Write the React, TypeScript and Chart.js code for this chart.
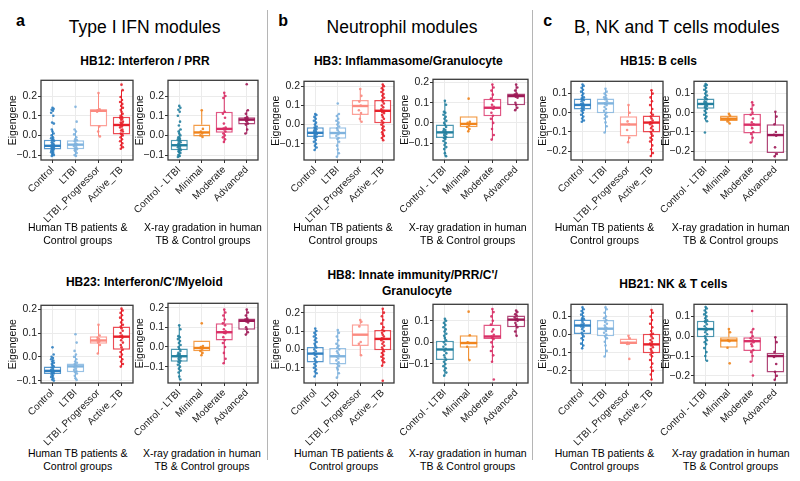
import React, { useEffect, useRef } from 'react';
import { Chart, registerables } from 'chart.js';
Chart.register(...registerables);

const FONT = "'Liberation Sans', Arial, Helvetica, sans-serif";
Chart.defaults.font.family = FONT;

// ---------- categories & colours ----------
const HUMAN_GROUPS = ['Control', 'LTBI', 'LTBI_Progressor', 'Active_TB'];
const XRAY_GROUPS = ['Control - LTBI', 'Minimal', 'Moderate', 'Advanced'];
const HUMAN_COLORS = ['#2f7fc1', '#7fb3de', '#fb8a80', '#e7202a'];
const XRAY_COLORS = ['#23809f', '#f0841c', '#d92e66', '#9e1a57'];
const HUMAN_TITLE = ['Human TB patients &', 'Control groups'];
const XRAY_TITLE = ['X-ray gradation in human', 'TB & Control groups'];
const Y_TICKS = [-0.2, -0.1, 0, 0.1, 0.2];

// ---------- box stats: [whisker low, Q1, median, Q3, whisker high] ----------
const HB12_HUMAN_STATS = [[-0.105, -0.072, -0.053, -0.022, 0.03], [-0.105, -0.07, -0.047, -0.025, 0.03], [-0.005, 0.045, 0.125, 0.133, 0.213], [-0.068, 0.005, 0.053, 0.095, 0.23]];
const HB12_XRAY_STATS = [[-0.11, -0.075, -0.05, -0.022, 0.03], [-0.008, -0.005, 0.015, 0.055, 0.128], [-0.033, 0.013, 0.033, 0.12, 0.217], [0.008, 0.055, 0.08, 0.092, 0.128]];
const HB23_HUMAN_STATS = [[-0.1, -0.072, -0.059, -0.041, -0.01], [-0.097, -0.065, -0.04, -0.028, 0.01], [0.014, 0.055, 0.069, 0.087, 0.135], [-0.041, 0.03, 0.085, 0.128, 0.203]];
const HB3_HUMAN_STATS = [[-0.133, -0.065, -0.043, -0.014, 0.055], [-0.168, -0.074, -0.044, -0.014, 0.055], [0.015, 0.05, 0.097, 0.128, 0.186], [-0.082, 0.007, 0.072, 0.128, 0.209]];
const HB3_XRAY_STATS = [[-0.165, -0.075, -0.047, -0.008, 0.11], [-0.042, -0.022, -0.005, 0.033, 0.033], [-0.083, 0.033, 0.075, 0.12, 0.19], [0.063, 0.087, 0.133, 0.145, 0.19]];
const HB23_XRAY_STATS = HB3_XRAY_STATS;
const HB8_HUMAN_STATS = [[-0.148, -0.071, -0.023, 0.0125, 0.114], [-0.154, -0.082, -0.0375, 0.007, 0.105], [-0.032, 0.018, 0.08, 0.1375, 0.16], [-0.089, -0.005, 0.057, 0.105, 0.221]];
const HB8_XRAY_STATS = [[-0.154, -0.082, -0.033, 0.0075, 0.109], [-0.082, -0.025, -0.003, 0.033, 0.033], [-0.09, 0.015, 0.027, 0.082, 0.154], [0.03, 0.07, 0.105, 0.124, 0.147]];
const HB15_HUMAN_STATS = [[-0.047, 0.017, 0.041, 0.0746, 0.147], [-0.103, -0.002, 0.049, 0.0746, 0.125], [-0.153, -0.124, -0.061, -0.0186, 0.041], [-0.225, -0.103, -0.051, -0.0136, 0.117]];
const HB15_XRAY_STATS = [[-0.044, 0.0205, 0.046, 0.075, 0.15], [-0.056, -0.043, -0.031, -0.014, -0.005], [-0.155, -0.108, -0.062, -0.005, 0.055], [-0.227, -0.21, -0.116, -0.06, 0.005]];
const HB21_HUMAN_STATS = [[-0.076, 0.0, 0.05, 0.083, 0.15], [-0.121, -0.009, 0.0325, 0.081, 0.15], [-0.052, -0.052, -0.045, -0.0217, -0.007], [-0.248, -0.103, -0.054, 0.005, 0.135]];
const HB21_XRAY_STATS = [[-0.124, -0.005, 0.036, 0.078, 0.147], [-0.058, -0.058, -0.0215, -0.005, 0.036], [-0.129, -0.074, -0.025, -0.005, 0.036], [-0.22, -0.183, -0.1, -0.083, -0.005]];

// ---------- individual points ----------
const HB12_HUMAN_POINTS = [
  [0.14, 0.135, 0.13, 0.125, 0.115, 0.1, 0.065, 0.06, 0.03, 0.02, 0.01, 0.0, -0.01, -0.015, -0.02, -0.025, -0.03, -0.035, -0.04, -0.045, -0.05, -0.052, -0.055, -0.058, -0.06, -0.063, -0.066, -0.07, -0.072, -0.075, -0.08, -0.085, -0.09, -0.095, -0.1, -0.105],
  [0.145, 0.07, 0.03, 0.02, 0.005, -0.01, -0.02, -0.025, -0.03, -0.04, -0.045, -0.048, -0.05, -0.055, -0.06, -0.065, -0.07, -0.075, -0.08, -0.09, -0.1, -0.105],
  [0.215, 0.132, 0.128, 0.125, 0.12, 0.045, 0.02, -0.005],
  [0.258, 0.23, 0.195, 0.18, 0.17, 0.16, 0.15, 0.14, 0.13, 0.12, 0.11, 0.1, 0.095, 0.09, 0.085, 0.08, 0.07, 0.065, 0.06, 0.055, 0.05, 0.045, 0.04, 0.03, 0.025, 0.02, 0.01, 0.005, 0.0, -0.01, -0.02, -0.03, -0.04, -0.05, -0.06, -0.068],
];
const HB12_XRAY_POINTS = [
  [0.15, 0.14, 0.13, 0.12, 0.1, 0.07, 0.05, 0.03, 0.02, 0.01, 0.0, -0.01, -0.015, -0.02, -0.025, -0.03, -0.035, -0.04, -0.045, -0.05, -0.052, -0.055, -0.06, -0.065, -0.07, -0.075, -0.08, -0.085, -0.09, -0.1, -0.105, -0.11],
  [0.128, 0.033, 0.02, 0.01, 0.0, -0.008],
  [0.217, 0.2, 0.19, 0.12, 0.11, 0.09, 0.06, 0.04, 0.035, 0.03, 0.02, 0.01, 0.0, -0.01, -0.02, -0.033],
  [0.26, 0.128, 0.11, 0.092, 0.088, 0.083, 0.08, 0.078, 0.075, 0.07, 0.06, 0.055, 0.03, 0.01],
];
const HB23_HUMAN_POINTS = [
  [0.04, 0.01, 0.0, -0.005, -0.01, -0.015, -0.02, -0.025, -0.03, -0.035, -0.04, -0.045, -0.05, -0.055, -0.058, -0.06, -0.062, -0.065, -0.068, -0.07, -0.075, -0.08, -0.085, -0.09, -0.095, -0.1],
  [0.095, 0.06, 0.025, 0.01, 0.0, -0.01, -0.02, -0.025, -0.03, -0.035, -0.04, -0.045, -0.05, -0.055, -0.06, -0.065, -0.07, -0.08, -0.09, -0.097],
  [0.135, 0.09, 0.08, 0.075, 0.07, 0.065, 0.06, 0.05, 0.014],
  [0.203, 0.195, 0.185, 0.175, 0.165, 0.155, 0.145, 0.135, 0.128, 0.12, 0.11, 0.1, 0.09, 0.085, 0.08, 0.07, 0.06, 0.05, 0.04, 0.03, 0.02, 0.01, 0.0, -0.01, -0.02, -0.03, -0.041],
];
const HB3_HUMAN_POINTS = [
  [0.055, 0.05, 0.04, 0.03, 0.02, 0.01, 0.0, -0.01, -0.015, -0.02, -0.025, -0.03, -0.035, -0.04, -0.043, -0.045, -0.05, -0.055, -0.06, -0.065, -0.07, -0.08, -0.09, -0.1, -0.11, -0.12, -0.133],
  [0.11, 0.055, 0.045, 0.03, 0.02, 0.01, 0.0, -0.01, -0.02, -0.03, -0.04, -0.045, -0.05, -0.06, -0.07, -0.075, -0.09, -0.11, -0.13, -0.15, -0.168],
  [0.186, 0.15, 0.12, 0.1, 0.075, 0.06, 0.03, 0.015],
  [0.209, 0.2, 0.19, 0.18, 0.17, 0.16, 0.15, 0.14, 0.13, 0.12, 0.11, 0.1, 0.09, 0.08, 0.072, 0.065, 0.06, 0.05, 0.04, 0.03, 0.02, 0.01, 0.0, -0.01, -0.02, -0.03, -0.04, -0.05, -0.06, -0.07, -0.082],
];
const HB3_XRAY_POINTS = [
  [0.11, 0.09, 0.055, 0.05, 0.04, 0.03, 0.02, 0.01, 0.0, -0.01, -0.02, -0.03, -0.035, -0.04, -0.045, -0.05, -0.055, -0.06, -0.065, -0.07, -0.075, -0.08, -0.09, -0.1, -0.11, -0.12, -0.13, -0.15, -0.165],
  [0.12, 0.005, 0.0, -0.01, -0.02, -0.03, -0.042],
  [0.19, 0.175, 0.16, 0.14, 0.12, 0.11, 0.09, 0.08, 0.075, 0.072, 0.07, 0.05, 0.035, 0.02, 0.0, -0.03, -0.06, -0.083],
  [0.19, 0.175, 0.16, 0.145, 0.14, 0.135, 0.13, 0.125, 0.1, 0.09, 0.075, 0.063],
];
const HB23_XRAY_POINTS = HB3_XRAY_POINTS;
const HB8_HUMAN_POINTS = [
  [0.114, 0.1, 0.09, 0.08, 0.07, 0.06, 0.05, 0.04, 0.03, 0.02, 0.01, 0.0, -0.01, -0.02, -0.025, -0.03, -0.04, -0.05, -0.06, -0.07, -0.08, -0.09, -0.1, -0.11, -0.12, -0.13, -0.148],
  [0.105, 0.09, 0.07, 0.05, 0.03, 0.02, 0.01, 0.0, -0.01, -0.02, -0.03, -0.04, -0.05, -0.06, -0.07, -0.08, -0.09, -0.1, -0.11, -0.13, -0.154],
  [0.16, 0.15, 0.125, 0.04, 0.03, -0.032],
  [0.221, 0.2, 0.18, 0.16, 0.14, 0.12, 0.105, 0.1, 0.09, 0.08, 0.07, 0.06, 0.057, 0.05, 0.04, 0.03, 0.02, 0.01, 0.0, -0.01, -0.02, -0.03, -0.04, -0.05, -0.06, -0.07, -0.089, -0.171],
];
const HB8_XRAY_POINTS = [
  [0.109, 0.1, 0.09, 0.08, 0.07, 0.06, 0.05, 0.04, 0.03, 0.02, 0.01, 0.0, -0.01, -0.02, -0.03, -0.04, -0.05, -0.06, -0.07, -0.08, -0.09, -0.1, -0.11, -0.12, -0.13, -0.14, -0.154],
  [0.142, 0.033, 0.0, -0.003, -0.02, -0.082],
  [0.154, 0.14, 0.12, 0.1, 0.082, 0.06, 0.05, 0.035, 0.027, 0.02, 0.015, 0.0, -0.02, -0.04, -0.06, -0.09, -0.172],
  [0.147, 0.14, 0.13, 0.124, 0.115, 0.11, 0.105, 0.1, 0.09, 0.08, 0.07, 0.05, 0.03],
];
const HB15_HUMAN_POINTS = [
  [0.147, 0.14, 0.13, 0.12, 0.11, 0.1, 0.09, 0.08, 0.075, 0.07, 0.065, 0.06, 0.05, 0.045, 0.04, 0.035, 0.03, 0.025, 0.02, 0.015, 0.01, 0.0, -0.01, -0.02, -0.03, -0.04, -0.047],
  [0.125, 0.11, 0.1, 0.09, 0.08, 0.075, 0.07, 0.06, 0.05, 0.045, 0.04, 0.03, 0.02, 0.01, 0.0, -0.01, -0.02, -0.03, -0.05, -0.07, -0.103],
  [0.04, 0.0, -0.045, -0.06, -0.09, -0.13, -0.153],
  [0.117, 0.1, 0.08, 0.06, 0.04, 0.02, 0.0, -0.01, -0.02, -0.03, -0.04, -0.05, -0.055, -0.06, -0.07, -0.08, -0.09, -0.1, -0.11, -0.12, -0.13, -0.14, -0.15, -0.17, -0.19, -0.21, -0.225],
];
const HB15_XRAY_POINTS = [
  [0.15, 0.145, 0.14, 0.13, 0.12, 0.11, 0.1, 0.09, 0.08, 0.075, 0.07, 0.06, 0.055, 0.05, 0.045, 0.04, 0.035, 0.03, 0.025, 0.02, 0.01, 0.0, -0.01, -0.02, -0.03, -0.044, -0.103],
  [-0.005, -0.015, -0.03, -0.035, -0.045, -0.056],
  [0.055, 0.04, 0.02, 0.0, -0.01, -0.03, -0.05, -0.06, -0.065, -0.08, -0.1, -0.11, -0.13, -0.155],
  [0.005, -0.02, -0.06, -0.1, -0.115, -0.12, -0.18, -0.215, -0.227],
];
const HB21_HUMAN_POINTS = [
  [0.15, 0.14, 0.13, 0.12, 0.11, 0.1, 0.09, 0.085, 0.08, 0.07, 0.06, 0.055, 0.05, 0.045, 0.04, 0.03, 0.02, 0.01, 0.0, -0.01, -0.02, -0.03, -0.05, -0.06, -0.076],
  [0.15, 0.14, 0.12, 0.1, 0.09, 0.08, 0.07, 0.06, 0.05, 0.04, 0.035, 0.03, 0.02, 0.01, 0.0, -0.01, -0.02, -0.04, -0.06, -0.09, -0.121],
  [-0.007, -0.02, -0.045, -0.05, -0.052, -0.134],
  [0.135, 0.12, 0.1, 0.08, 0.06, 0.04, 0.02, 0.005, 0.0, -0.01, -0.02, -0.03, -0.04, -0.05, -0.055, -0.06, -0.07, -0.08, -0.09, -0.1, -0.11, -0.12, -0.14, -0.16, -0.18, -0.2, -0.22, -0.248],
];
const HB21_XRAY_POINTS = [
  [0.147, 0.14, 0.13, 0.12, 0.11, 0.1, 0.09, 0.08, 0.075, 0.07, 0.06, 0.05, 0.04, 0.035, 0.03, 0.02, 0.01, 0.0, -0.01, -0.02, -0.03, -0.04, -0.06, -0.08, -0.1, -0.124],
  [0.036, 0.02, -0.02, -0.025, -0.058, -0.137],
  [0.127, 0.036, 0.02, 0.0, -0.01, -0.02, -0.025, -0.03, -0.04, -0.05, -0.07, -0.08, -0.1, -0.129, -0.198],
  [-0.005, -0.03, -0.08, -0.1, -0.105, -0.14, -0.18, -0.2, -0.22],
];

// ---------- y axis limits ----------
const HB12_HUMAN_Y = [-0.125, 0.28];
const HB12_XRAY_Y = [-0.125, 0.28];
const HB23_HUMAN_Y = [-0.11, 0.217];
const HB23_XRAY_Y = [-0.183, 0.222];
const HB3_HUMAN_Y = [-0.185, 0.226];
const HB3_XRAY_Y = [-0.184, 0.216];
const HB8_HUMAN_Y = [-0.183, 0.24];
const HB8_XRAY_Y = [-0.188, 0.176];
const HB15_HUMAN_Y = [-0.246, 0.164];
const HB15_XRAY_Y = [-0.246, 0.164];
const HB21_HUMAN_Y = [-0.267, 0.167];
const HB21_XRAY_Y = [-0.236, 0.161];

// ---------- layout (plot area boxes: left, top, right, bottom) ----------
const H = { groups: HUMAN_GROUPS, colors: HUMAN_COLORS, title: HUMAN_TITLE };
const X = { groups: XRAY_GROUPS, colors: XRAY_COLORS, title: XRAY_TITLE };
const PLOTS = [
  { ...H, stats: HB12_HUMAN_STATS, points: HB12_HUMAN_POINTS, y: HB12_HUMAN_Y, box: [41, 79, 133, 160], tx: 77.7, row: 0 },
  { ...X, stats: HB12_XRAY_STATS, points: HB12_XRAY_POINTS, y: HB12_XRAY_Y, box: [168, 79, 258, 160], tx: 203, row: 0 },
  { ...H, stats: HB3_HUMAN_STATS, points: HB3_HUMAN_POINTS, y: HB3_HUMAN_Y, box: [304, 80, 394, 160], tx: 343, row: 0 },
  { ...X, stats: HB3_XRAY_STATS, points: HB3_XRAY_POINTS, y: HB3_XRAY_Y, box: [433, 78, 528, 160], tx: 467.7, row: 0 },
  { ...H, stats: HB15_HUMAN_STATS, points: HB15_HUMAN_POINTS, y: HB15_HUMAN_Y, box: [571, 80, 663, 160], tx: 604.5, row: 0 },
  { ...X, stats: HB15_XRAY_STATS, points: HB15_XRAY_POINTS, y: HB15_XRAY_Y, box: [694, 80, 787, 160], tx: 730.7, row: 0 },
  { ...H, stats: HB23_HUMAN_STATS, points: HB23_HUMAN_POINTS, y: HB23_HUMAN_Y, box: [41, 304, 133, 383], tx: 77.7, row: 1 },
  { ...X, stats: HB23_XRAY_STATS, points: HB23_XRAY_POINTS, y: HB23_XRAY_Y, box: [168, 302, 258, 383], tx: 202, row: 1 },
  { ...H, stats: HB8_HUMAN_STATS, points: HB8_HUMAN_POINTS, y: HB8_HUMAN_Y, box: [304, 304, 394, 383], tx: 343.8, row: 1 },
  { ...X, stats: HB8_XRAY_STATS, points: HB8_XRAY_POINTS, y: HB8_XRAY_Y, box: [433, 303, 528, 383], tx: 467.7, row: 1 },
  { ...H, stats: HB21_HUMAN_STATS, points: HB21_HUMAN_POINTS, y: HB21_HUMAN_Y, box: [571, 303, 663, 383], tx: 604.5, row: 1 },
  { ...X, stats: HB21_XRAY_STATS, points: HB21_XRAY_POINTS, y: HB21_XRAY_Y, box: [694, 303, 787, 383], tx: 730.7, row: 1 },
];

const JITTER = [0, 0.05, -0.04, 0.02, -0.06, 0.035, -0.015, 0.06, -0.03];
const AX_W = 40, PAD_T = 6, PAD_R = 4, AX_H = 64;

function withAlpha(hex: string, a: number) {
  const n = parseInt(hex.slice(1), 16);
  return `rgba(${(n >> 16) & 255},${(n >> 8) & 255},${n & 255},${a})`;
}
function fmtTick(v: number) {
  const r = Math.round(v * 10) / 10;
  return (r === 0 ? 0 : r).toFixed(1).replace('-', '\u2212');
}

const boxPlugin = {
  id: 'boxWhisker',
  afterDatasetDraw(chart: any, args: any) {
    const ds = chart.data.datasets[args.index];
    if (!ds.stats) return;
    const ctx = chart.ctx;
    const ys = chart.scales.y;
    ctx.save();
    args.meta.data.forEach((bar: any, i: number) => {
      const [lo, q1, med, q3, hi] = ds.stats[i];
      const x = bar.x;
      const w = bar.width;
      ctx.strokeStyle = ds.lineColors[i];
      ctx.lineWidth = 1;
      ctx.beginPath();
      ctx.moveTo(x, ys.getPixelForValue(q3));
      ctx.lineTo(x, ys.getPixelForValue(hi));
      ctx.moveTo(x, ys.getPixelForValue(q1));
      ctx.lineTo(x, ys.getPixelForValue(lo));
      ctx.stroke();
      ctx.lineWidth = 2.4;
      const ym = ys.getPixelForValue(med);
      ctx.beginPath();
      ctx.moveTo(x - w / 2 + 0.5, ym);
      ctx.lineTo(x + w / 2 - 0.5, ym);
      ctx.stroke();
    });
    ctx.restore();
  },
};

const borderPlugin = {
  id: 'panelBorder',
  afterDraw(chart: any) {
    const { ctx, chartArea: a } = chart;
    ctx.save();
    ctx.strokeStyle = '#3a3a3a';
    ctx.lineWidth = 1.3;
    ctx.strokeRect(a.left, a.top, a.right - a.left, a.bottom - a.top);
    ctx.restore();
  },
};

function BoxChart({ p }: { p: any }) {
  const ref = useRef<HTMLCanvasElement>(null);
  const [L, T, R, B] = p.box;
  const W = R - L + AX_W + PAD_R;
  const Ht = B - T + PAD_T + AX_H;
  useEffect(() => {
    const pts: any[] = [];
    const pcol: string[] = [];
    p.points.forEach((arr: number[], gi: number) => {
      arr.forEach((v, k) => {
        pts.push({ x: gi + JITTER[k % JITTER.length], y: v });
        pcol.push(withAlpha(p.colors[gi], 0.9));
      });
    });
    const chart = new Chart(ref.current as HTMLCanvasElement, {
      type: 'bar',
      data: {
        datasets: [
          {
            type: 'bar',
            data: p.stats.map((s: number[], i: number) => ({ x: i, y: [s[1], s[3]] })),
            stats: p.stats,
            lineColors: p.colors,
            backgroundColor: '#ffffff',
            borderColor: p.colors.map((c: string) => withAlpha(c, 0.8)),
            borderWidth: 1.5,
            borderSkipped: false,
            grouped: false,
            barPercentage: 0.76,
            categoryPercentage: 1,
            xAxisID: 'x',
            yAxisID: 'y',
            order: 2,
          } as any,
          {
            type: 'scatter',
            data: pts,
            pointBackgroundColor: pcol,
            pointBorderWidth: 0,
            pointRadius: 1.3,
            xAxisID: 'x',
            yAxisID: 'y',
            order: 1,
          } as any,
        ],
      },
      options: {
        responsive: false,
        animation: false,
        devicePixelRatio: 1,
        events: [],
        layout: { padding: { top: PAD_T, right: PAD_R, left: 0, bottom: 0 } },
        plugins: { legend: { display: false }, tooltip: { enabled: false } },
        scales: {
          x: {
            type: 'linear',
            min: -0.5,
            max: 3.5,
            offset: false,
            grid: { offset: false, color: '#ebebeb', lineWidth: 1, tickColor: '#333', tickLength: 3, drawTicks: true },
            border: { display: false },
            ticks: {
              autoSkip: false,
              minRotation: 45,
              maxRotation: 45,
              color: '#222',
              font: { size: 10 },
              padding: 1,
              callback: (v: any) => p.groups[Math.round(Number(v))],
            },
            afterBuildTicks: (s: any) => {
              s.ticks = p.groups.map((_: string, i: number) => ({ value: i }));
            },
            afterFit: (s: any) => { s.height = AX_H; s.paddingLeft = 0; s.paddingRight = 0; },
          },
          y: {
            type: 'linear',
            min: p.y[0],
            max: p.y[1],
            grid: { color: '#ebebeb', lineWidth: 1, tickColor: '#333', tickLength: 3, drawTicks: true },
            border: { display: false },
            ticks: { color: '#222', font: { size: 10.5 }, padding: 1, callback: (v: any) => fmtTick(Number(v)) },
            title: { display: true, text: 'Eigengene', color: '#111', font: { size: 10.5 }, padding: { top: 6, bottom: 0 } },
            afterBuildTicks: (s: any) => {
              s.ticks = Y_TICKS.filter((v) => v >= s.min - 1e-9 && v <= s.max + 1e-9).map((v) => ({ value: v }));
            },
            afterFit: (s: any) => { s.width = AX_W; },
          },
        },
      } as any,
      plugins: [boxPlugin, borderPlugin],
    });
    return () => chart.destroy();
  }, []);
  return (
    <canvas
      ref={ref}
      width={W}
      height={Ht}
      style={{ position: 'absolute', left: L - AX_W, top: T - PAD_T, width: W, height: Ht }}
    />
  );
}

function Txt({ x, base, size, bold, align, children }: any) {
  const top = base - 0.8465 * size;
  const style: any = {
    position: 'absolute',
    top,
    fontSize: size,
    lineHeight: `${size}px`,
    fontWeight: bold ? 'bold' : 'normal',
    fontFamily: FONT,
    whiteSpace: 'nowrap',
    color: '#000',
  };
  if (align === 'left') {
    style.left = x;
  } else {
    style.left = x - 200;
    style.width = 400;
    style.textAlign = 'center';
  }
  return <div style={style}>{children}</div>;
}

export default function App() {
  return (
    <div style={{ position: 'fixed', left: 0, top: 0, width: 800, height: 481, background: '#fff', overflow: 'hidden' }}>
      <div style={{ position: 'absolute', left: 266.5, top: 10, width: 1.5, height: 450, background: '#b5b5b5' }} />
      <div style={{ position: 'absolute', left: 531.5, top: 10, width: 1.5, height: 450, background: '#b5b5b5' }} />

      <Txt x={16} base={26.7} size={16} bold align="left">a</Txt>
      <Txt x={278.3} base={26.7} size={16} bold align="left">b</Txt>
      <Txt x={543.3} base={26.7} size={16} bold align="left">c</Txt>

      <Txt x={144.7} base={34.3} size={17.5}>Type I IFN modules</Txt>
      <Txt x={402} base={34.3} size={17.5}>Neutrophil modules</Txt>
      <Txt x={676.7} base={34.3} size={17.5}>B, NK and T cells modules</Txt>

      <Txt x={145} base={65} size={12} bold>HB12: Interferon / PRR</Txt>
      <Txt x={408.3} base={65} size={12} bold>HB3: Inflammasome/Granulocyte</Txt>
      <Txt x={658.7} base={65} size={12} bold>HB15: B cells</Txt>
      <Txt x={144.3} base={286} size={12} bold>HB23: Interferon/C'/Myeloid</Txt>
      <Txt x={412.5} base={279.3} size={12} bold>HB8: Innate immunity/PRR/C'/</Txt>
      <Txt x={417} base={295} size={12} bold>Granulocyte</Txt>
      <Txt x={673.3} base={287.7} size={12} bold>HB21: NK &amp; T cells</Txt>

      {PLOTS.map((p, i) => (
        <BoxChart key={i} p={p} />
      ))}

      {PLOTS.map((p, i) => (
        <React.Fragment key={'t' + i}>
          <Txt x={p.tx} base={p.row === 0 ? 230.5 : 456.5} size={10.5}>{p.title[0]}</Txt>
          <Txt x={p.tx} base={p.row === 0 ? 244 : 470} size={10.5}>{p.title[1]}</Txt>
        </React.Fragment>
      ))}
    </div>
  );
}
